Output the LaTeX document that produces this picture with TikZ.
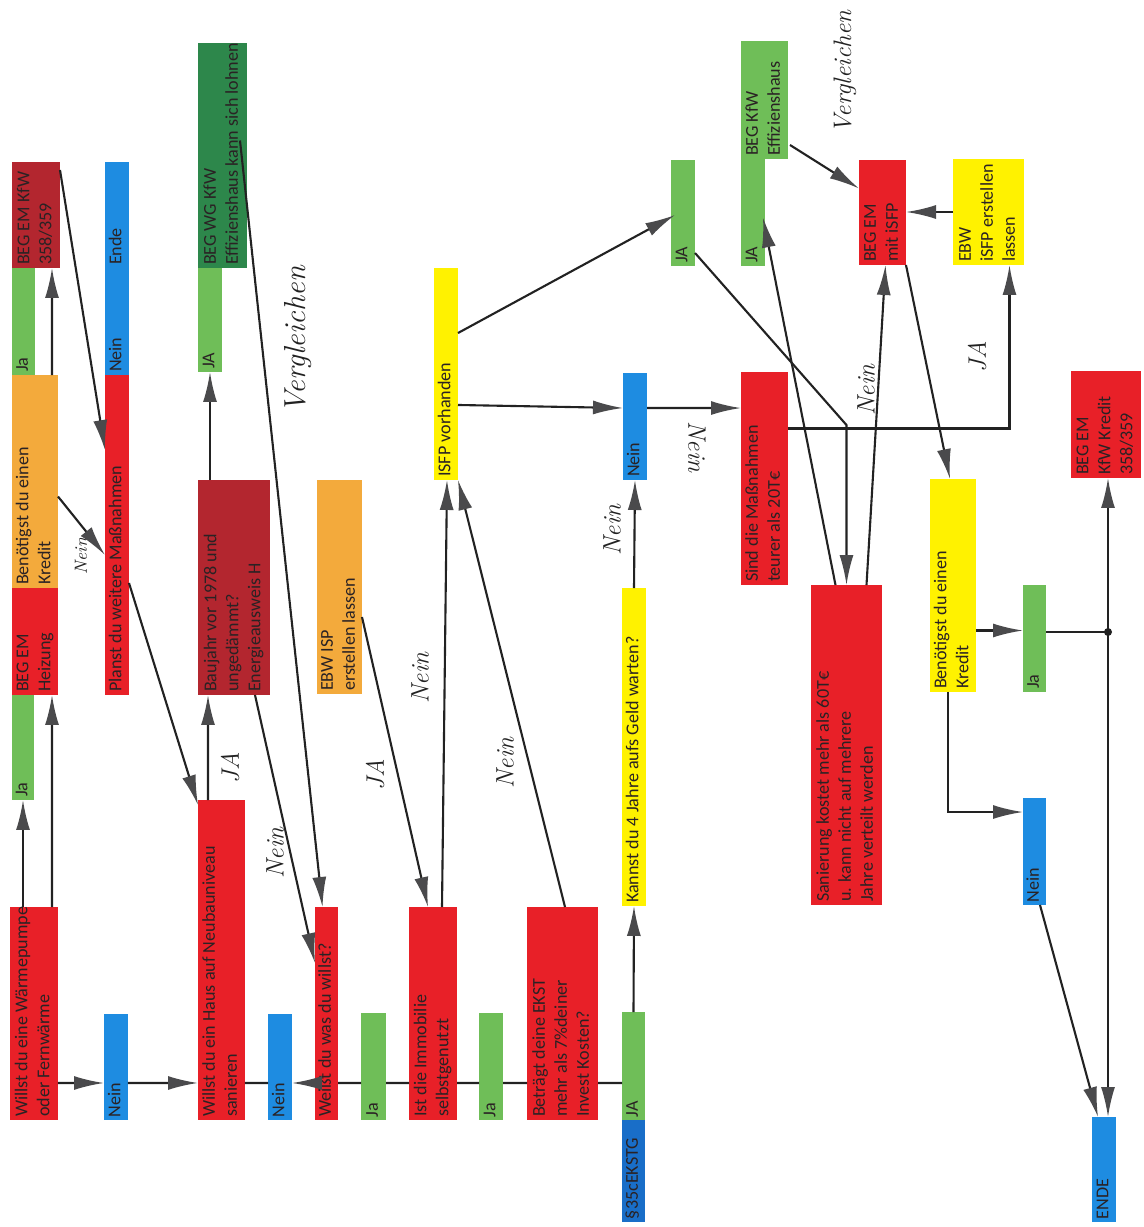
\documentclass[tikz,border=0pt]{standalone}
\usepackage{fontspec}
\usepackage{graphicx}
\usepackage{tikz}
\usetikzlibrary{positioning,calc,arrows.meta}
\newfontfamily\boxfont{Carlito}
\newlength\pxu
\setlength\pxu{0.2mm}
\newcommand{\vt}[2]{\rotatebox{90}{\makebox[\dimexpr#1\pxu-6\pxu\relax][l]{\begin{tabular}{@{}l@{}}#2\end{tabular}}}}

\definecolor{rot}{HTML}{E82028}
\definecolor{dunkelrot}{HTML}{B3262F}
\definecolor{orangefarbe}{HTML}{F3AA3C}
\definecolor{gruen}{HTML}{6FBE58}
\definecolor{dunkelgruen}{HTML}{2D874B}
\definecolor{blau}{HTML}{1E8CE1}
\definecolor{dunkelblau}{HTML}{196EC8}
\definecolor{gelb}{HTML}{FFF200}
\definecolor{schrift}{HTML}{2A2224}
\definecolor{linie}{HTML}{222222}
\definecolor{spitze}{HTML}{4A4A4C}

\tikzset{
  box/.style={rectangle, inner sep=0pt, outer sep=0pt, text=schrift, font=\boxfont\fontsize{10.3}{12.5}\selectfont},
  sz/.style 2 args={minimum width=#1*0.2mm, minimum height=#2*0.2mm},
  redbox/.style={box, fill=rot},
  darkredbox/.style={box, fill=dunkelrot},
  orangebox/.style={box, fill=orangefarbe},
  greenbox/.style={box, fill=gruen},
  darkgreenbox/.style={box, fill=dunkelgruen},
  bluebox/.style={box, fill=blau},
  yellowbox/.style={box, fill=gelb},
  pfeil/.style={draw=linie, line width=1.2pt, -{Latex[length=6mm,width=2.8mm,color=spitze]}},
  strich/.style={draw=linie, line width=1.2pt},
  hand/.style={font=\itshape\Large, rotate=90, text=linie},
}

\begin{document}
\begin{tikzpicture}[x=0.02cm, y=-0.02cm]
    \fill[white] (0,0) rectangle (1143,1227);
    \useasboundingbox (0,0) rectangle (1143,1227);

    \node (kfwA) [darkredbox, sz={48}{106}] at (36,215) {\vt{106}{BEG EM KfW\\358/359}};
    \node (jaA) [greenbox, sz={23}{107}] at (23.5,321.5) {\vt{107}{Ja}};
    \node (kreditA) [orangebox, sz={46}{213}] at (35,481.5) {\vt{213}{Benötigst du einen\\Kredit}};
    \node (heizung) [redbox, sz={46}{107}] at (35,641.5) {\vt{107}{BEG EM\\Heizung}};
    \node (jaB) [greenbox, sz={22}{105}] at (23,747.5) {\vt{105}{Ja}};
    \node (waerme) [redbox, sz={48}{213}] at (34,1013.5) {\vt{213}{Willst du eine Wärmepumpe\\oder Fernwärme}};

    \node (ende) [bluebox, sz={24}{106}] at (117,215) {\vt{106}{Ende}};
    \node (neinA) [bluebox, sz={24}{107}] at (117,321.5) {\vt{107}{Nein}};
    \node (planst) [redbox, sz={24}{320}] at (117,535) {\vt{320}{Planst du weitere Maßnahmen}};
    \node (neinB) [bluebox, sz={24}{106}] at (116,1067) {\vt{106}{Nein}};

    \node (wgkfw) [darkgreenbox, sz={49}{225}] at (222.5,155.5) {\vt{225}{BEG WG KfW\\Effizienshaus kann sich lohnen}};
    \node (jaC) [greenbox, sz={24}{104}] at (210,320) {\vt{104}{JA}};
    \node (baujahr) [darkredbox, sz={72}{215}] at (234,587.5) {\vt{215}{Baujahr vor 1978 und\\ungedämmt?\\Energieausweis H}};
    \node (neubau) [redbox, sz={47}{320}] at (221.5,960) {\vt{320}{Willst du ein Haus auf Neubauniveau\\sanieren}};
    \node (neinC) [bluebox, sz={24}{106}] at (280,1067) {\vt{106}{Nein}};

    \node (weisst) [redbox, sz={23}{213}] at (326.5,1013.5) {\vt{213}{Weißt du was du willst?}};
    \node (ebwisp) [orangebox, sz={45}{214}] at (339.5,587) {\vt{214}{EBW ISP\\erstellen lassen}};
    \node (jaD) [greenbox, sz={25}{107}] at (373.5,1066.5) {\vt{107}{Ja}};
    \node (immo) [redbox, sz={48}{213}] at (433,1013.5) {\vt{213}{Ist die Immobilie\\selbstgenutzt}};
    \node (isfp) [yellowbox, sz={24}{212}] at (446,374) {\vt{212}{ISFP vorhanden}};
    \node (jaE) [greenbox, sz={24}{107}] at (491,1066.5) {\vt{107}{Ja}};
    \node (ekst) [redbox, sz={71}{213}] at (562.5,1013.5) {\vt{213}{Beträgt deine EKST\\mehr als 7\%deiner\\Invest Kosten?}};
    \node (jaF) [greenbox, sz={23}{108}] at (633.5,1066) {\vt{108}{JA}};
    \node (paragraf) [box, fill=dunkelblau, sz={23}{102}] at (633.5,1171) {\vt{102}{§35cEKSTG}};
    \node (kannst) [yellowbox, sz={24}{318}] at (634,747) {\vt{318}{Kannst du 4 Jahre aufs Geld warten?}};
    \node (neinD) [bluebox, sz={24}{107}] at (635,426.5) {\vt{107}{Nein}};

    \node (jaG) [greenbox, sz={24}{106}] at (683,213) {\vt{106}{JA}};
    \node (jaH) [greenbox, sz={24}{107}] at (753,212.5) {\vt{107}{JA}};
    \node (effizienz) [greenbox, sz={47}{118}] at (764.5,100) {\vt{118}{BEG KfW\\Effizienshaus}};
    \node (sind) [redbox, sz={47}{213}] at (764.5,478.5) {\vt{213}{Sind die Maßnahmen\\teurer als 20T€}};
    \node (sanierung) [redbox, sz={71}{320}] at (846.5,745) {\vt{320}{Sanierung kostet mehr als 60T€\\u. kann nicht auf mehrere\\Jahre verteilt werden}};
    \node (isfpEM) [redbox, sz={47}{105}] at (882.5,212.5) {\vt{105}{BEG EM\\mit iSFP}};
    \node (ebwisfp) [yellowbox, sz={71}{106}] at (988.5,212) {\vt{106}{EBW\\iSFP erstellen\\lassen}};
    \node (kreditB) [yellowbox, sz={46}{213}] at (953,585.5) {\vt{213}{Benötigst du einen\\Kredit}};
    \node (jaI) [greenbox, sz={23}{107}] at (1034.5,638.5) {\vt{107}{Ja}};
    \node (neinE) [bluebox, sz={23}{107}] at (1034.5,851.5) {\vt{107}{Nein}};
    \node (kredit358) [redbox, sz={70}{107}] at (1106,424.5) {\vt{107}{BEG EM\\KfW Kredit\\358/359}};
    \node (ende2) [bluebox, sz={24}{105}] at (1104,1169.5) {\vt{105}{ENDE}};

    \coordinate (knoten) at (1108,632);

    \node (vglA) [hand, font=\itshape\LARGE] at (298,340) {Vergleichen};
    \node (vglB) [hand] at (845,72) {Vergleichen};
    \node (lblA) [hand, font=\itshape\normalsize] at (81,556) {Nein};
    \node (lblB) [hand] at (230,768) {JA};
    \node (lblC) [hand] at (275,853) {Nein};
    \node (lblD) [hand] at (375,775) {JA};
    \node (lblE) [hand] at (420,678) {Nein};
    \node (lblF) [hand] at (505,763) {Nein};
    \node (lblG) [hand] at (612,530) {Nein};
    \node (lblH) [hand, rotate=180] at (697,447) {Nein};
    \node (lblI) [hand] at (866,390) {Nein};
    \node (lblJ) [hand] at (977,357) {JA};

    \draw[pfeil] (jaB.south |- waerme.north) -- (jaB.south);
    \draw[pfeil] ($(waerme.north east)+(-6,0)$) -- ($(heizung.south east)+(-6,0)$);
    \draw[pfeil] ($(kreditA.north east)+(-6,0)$) -- ($(kfwA.south east)+(-8,0)$);
    \draw[pfeil] ($(kfwA.north east)+(0,8)$) -- ($(planst.north west)+(0,75)$);
    \draw[pfeil] ($(kreditA.east)+(0,15)$) -- ($(planst.west)+(0,20)$);
    \draw[pfeil] ($(planst.east)+(0,48)$) -- ($(neubau.north west)+(0,5)$);

    \draw[pfeil] ($(waerme.south east)+(0,-37)$) -- ($(neinB.south west)+(0,-37)$);
    \draw[pfeil] ($(neinB.south east)+(0,-37)$) -- ($(neubau.south west)+(0,-37)$);
    \draw[pfeil] ($(weisst.south west)+(0,-37)$) -- ($(neinC.south east)+(0,-37)$);
    \foreach \a/\b in {neubau/neinC, weisst/jaD, jaD/immo, immo/jaE, jaE/ekst, ekst/jaF}
        \draw[strich] ($(\a.south east)+(0,-37)$) -- ($(\b.south west)+(0,-37)$);

    \draw[pfeil] ($(neubau.north west)+(10,0)$) -- ($(baujahr.south west)+(10,0)$);
    \draw[pfeil] (jaC.south |- baujahr.north) -- (jaC.south);
    \draw[pfeil] ($(baujahr.south east)+(-15,0)$) -- ($(weisst.north west)+(0,56)$);
    \draw[pfeil] ($(wgkfw.east)+(-7,-15)$) -- ($(weisst.north)+(-4,0)$);
    \draw[pfeil] ($(ebwisp.east)+(0,30)$) -- ($(immo.north west)+(19,0)$);
    \draw[pfeil] ($(immo.north)+(9,0)$) -- ($(isfp.south)+(1,0)$);
    \draw[pfeil] ($(ekst.north)+(2.5,0)$) -- (isfp.south east);

    \draw[pfeil] (jaF.north) -- (kannst.south);
    \draw[pfeil] (kannst.north) -- (neinD.south);
    \draw[pfeil] ($(isfp.south east)+(0,-75)$) -- ($(neinD.north west)+(0,35)$);
    \draw[pfeil] ($(isfp.north east)+(0,65)$) -- ($(jaG.north east)+(-20,55)$);
    \draw[pfeil] ($(neinD.north east)+(0,35)$) -- ($(sind.north west)+(0,36)$);

    \draw[pfeil] ($(sind.east)+(0,-50)$) -| ($(ebwisfp.south)+(21,0)$);
    \draw[pfeil] ($(jaG.south east)+(0,-13)$) -- ($(sanierung.north)+(0,-160)$) -- (sanierung.north);
    \draw[pfeil] ($(sanierung.north)+(-11,0)$) -- ($(jaH.east)+(-2,5)$);
    \draw[pfeil] ($(sanierung.north)+(20,0)$) -- ($(isfpEM.south)+(3,0)$);
    \draw[pfeil] ($(effizienz.south east)+(2,-14)$) -- ($(isfpEM.west)+(0,-24)$);
    \draw[pfeil] (ebwisfp.west) -- (isfpEM.east |- ebwisfp.west);
    \draw[pfeil] (isfpEM.south east) -- ($(kreditB.north)+(-3,0)$);

    \draw[pfeil] ($(kreditB.east)+(0,45)$) -- (jaI.west |- {$(kreditB.east)+(0,45)$});
    \draw[strich] (jaI.east |- knoten) -- (knoten);
    \fill[linie] (knoten) circle[radius=0.8mm];
    \draw[pfeil] (knoten) -- (knoten |- kredit358.south);
    \draw[pfeil] (knoten) -- (knoten |- ende2.north);
    \draw[pfeil] ($(kreditB.south)+(-5,0)$) |- ($(neinE.north west)+(0,14)$);
    \draw[pfeil] ($(neinE.south east)+(-6,0)$) -- ($(ende2.north)+(-6,0)$);
\end{tikzpicture}
\end{document}
